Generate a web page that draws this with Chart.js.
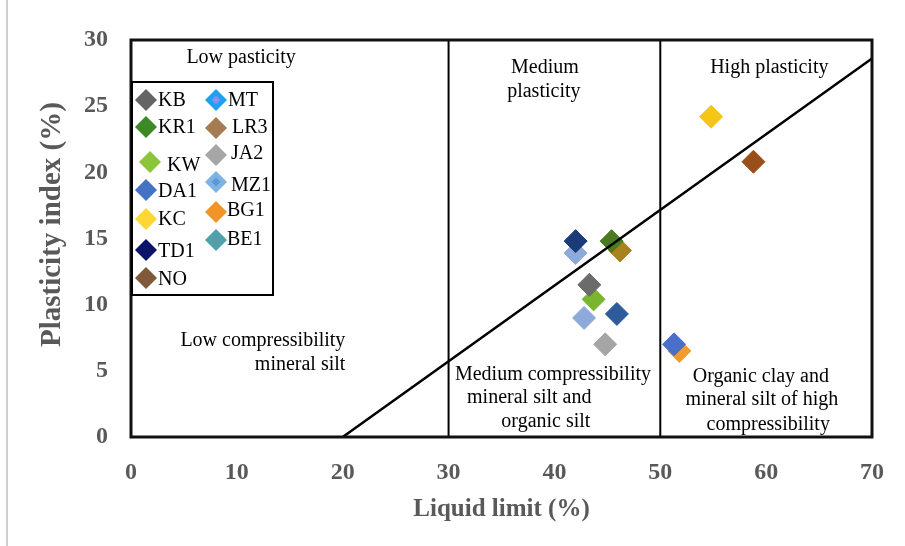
<!DOCTYPE html>
<html><head><meta charset="utf-8">
<script src="https://cdn.jsdelivr.net/npm/chart.js@4.4.0/dist/chart.umd.min.js"></script>
<style>html,body{margin:0;padding:0;background:#fff}#wrap{width:905px;height:546px;position:relative}</style>
</head><body><div id="wrap"><canvas id="c" width="905" height="546"></canvas></div>
<script>
// ---- data ----
const samples = ['KB','KR1','KW','DA1','KC','TD1','NO','MT','LR3','JA2','MZ1','BG1','BE1'];
const liquidLimit = [43.3, 45.4, 43.7, 51.3, 54.8, 42.0, 58.8, 45.9, 46.2, 44.8, 42.0, 51.8, 42.8];
const plasticityIndex = [11.5, 14.8, 10.4, 7.0, 24.2, 14.8, 20.8, 9.3, 14.1, 7.0, 13.9, 6.5, 9.0];
const xTickValues = [0, 10, 20, 30, 40, 50, 60, 70];
const yTickValues = [0, 5, 10, 15, 20, 25, 30];
const aLineLL = [20, 70];
const aLinePI = [0, 28.6];
const boundaryLL = [30, 50];
const boundaryPI = [0, 30];
const xTitle = 'Liquid limit (%)';
const yTitle = 'Plasticity index (%)';

// ---- styles ----
const pointColors = ['#6b6b6b','#4a7a22','#7ab530','#4a6fc8','#f5c518','#1b3a78','#9a4f1a',
                     '#2e5c9a','#a8821e','#a5a5a5','#8eaadb','#f29a2e','#8eaadb'];
const legendColors = ['#646464','#3b8a27','#8cc43c','#4472c4','#fdd835','#0b1466','#80593a',
                      '#1ea0f0','#a57c52','#a6a6a6','#7fb2e5','#f0952a','#4da3ad'];
const legendInner = [null,null,null,null,null,null,null,'#8a8ff0',null,null,'#5b9bd5',null,'#5f9aa3'];
const serif = '"Liberation Serif","Times New Roman",serif';

const datasets = [];
samples.forEach((s, i) => {
  datasets.push({
    label: s,
    data: [{x: liquidLimit[i], y: plasticityIndex[i]}],
    pointStyle: 'rectRot',
    pointRadius: 11.5,
    pointHoverRadius: 11.5,
    backgroundColor: pointColors[i],
    borderColor: pointColors[i],
    borderWidth: 1,
    order: 1
  });
});
boundaryLL.forEach(v => {
  datasets.push({
    label: 'b' + v,
    data: boundaryPI.map(p => ({x: v, y: p})),
    showLine: true, pointRadius: 0, borderColor: '#000', borderWidth: 2, order: 0
  });
});
datasets.push({
  label: 'A-line',
  data: aLineLL.map((v, i) => ({x: v, y: aLinePI[i]})),
  showLine: true, pointRadius: 0, borderColor: '#000', borderWidth: 2.5, order: 0
});

// annotations in data units
const annotations = [
  {t: 'Low pasticity', x: 10.4, y: 28.65, a: 'center'},
  {t: 'Medium', x: 39.1, y: 27.9, a: 'center'},
  {t: 'plasticity', x: 39.0, y: 26.1, a: 'center'},
  {t: 'High plasticity', x: 60.3, y: 27.9, a: 'center'},
  {t: 'Low compressibility', x: 20.25, y: 7.25, a: 'right'},
  {t: 'mineral silt', x: 20.25, y: 5.45, a: 'right'},
  {t: 'Medium compressibility', x: 30.6, y: 4.7, a: 'left'},
  {t: 'mineral silt and', x: 43.5, y: 2.95, a: 'right'},
  {t: 'organic silt', x: 43.4, y: 1.15, a: 'right'},
  {t: 'Organic clay and', x: 59.5, y: 4.55, a: 'center'},
  {t: 'mineral silt of high', x: 59.6, y: 2.8, a: 'center'},
  {t: 'compressibility', x: 60.2, y: 0.9, a: 'center'}
];

// legend layout relative to chart area (px)
const legendBox = {dx: 1, dy: 42, w: 141, h: 213};
const legendSlots = [
  [15, 60, 27, 61], [15, 87, 27, 88], [19, 122, 36, 126], [15, 150, 27, 152],
  [15, 179, 27, 180], [15, 210, 27, 212], [15, 238, 27, 240],
  [85, 60, 97, 61], [85, 88, 101, 88], [85, 115, 100, 114], [85, 142, 100, 146],
  [85, 172, 96, 171], [85, 200, 96, 200]
];

function diamond(ctx, x, y, r, color) {
  ctx.beginPath();
  ctx.moveTo(x - r, y); ctx.lineTo(x, y - r); ctx.lineTo(x + r, y); ctx.lineTo(x, y + r);
  ctx.closePath();
  ctx.fillStyle = color; ctx.fill();
}

const overlay = {
  id: 'overlay',
  afterDraw(chart) {
    const ctx = chart.ctx, ca = chart.chartArea, xs = chart.scales.x, ys = chart.scales.y;
    ctx.save();
    // figure border
    ctx.strokeStyle = '#cfcfcf'; ctx.lineWidth = 2;
    ctx.beginPath(); ctx.moveTo(7, 0); ctx.lineTo(7, 546); ctx.stroke();
    // plot frame
    ctx.strokeStyle = '#111'; ctx.lineWidth = 3;
    ctx.strokeRect(ca.left, ca.top, ca.right - ca.left, ca.bottom - ca.top);
    // y axis title
    ctx.save();
    ctx.translate(53, ca.top + (ca.bottom - ca.top) * 0.465);
    ctx.rotate(-Math.PI / 2);
    ctx.fillStyle = '#595959'; ctx.font = 'bold 29px ' + serif;
    ctx.textAlign = 'center'; ctx.textBaseline = 'middle';
    ctx.fillText(yTitle, 0, 0);
    ctx.restore();
    // annotations
    ctx.fillStyle = '#000'; ctx.font = '20px ' + serif; ctx.textBaseline = 'middle';
    annotations.forEach(an => {
      ctx.textAlign = an.a;
      ctx.fillText(an.t, xs.getPixelForValue(an.x), ys.getPixelForValue(an.y));
    });
    // legend
    const lx = ca.left + legendBox.dx, ly = ca.top + legendBox.dy;
    ctx.fillStyle = '#fff';
    ctx.fillRect(lx, ly, legendBox.w, legendBox.h);
    ctx.strokeStyle = '#000'; ctx.lineWidth = 2;
    ctx.strokeRect(lx, ly, legendBox.w, legendBox.h);
    ctx.font = '20px ' + serif; ctx.textAlign = 'left'; ctx.textBaseline = 'middle';
    samples.forEach((s, i) => {
      const sl = legendSlots[i];
      const sx = ca.left + sl[0], sy = ca.top + sl[1];
      diamond(ctx, sx, sy, 11, legendColors[i]);
      if (legendInner[i]) diamond(ctx, sx, sy, 4.5, legendInner[i]);
      ctx.fillStyle = '#000';
      ctx.fillText(s, ca.left + sl[2], ca.top + sl[3]);
    });
    ctx.restore();
  }
};

new Chart(document.getElementById('c'), {
  type: 'scatter',
  data: {datasets},
  options: {
    responsive: false, animation: false, devicePixelRatio: 1,
    layout: {autoPadding: false, padding: {left: 0, top: 40, right: 30, bottom: 0}},
    plugins: {legend: {display: false}, tooltip: {enabled: false}},
    scales: {
      x: {
        type: 'linear', min: 0, max: 70,
        afterBuildTicks: sc => { sc.ticks = xTickValues.map(v => ({value: v})); },
        afterFit: sc => { sc.height = 109; },
        grid: {display: false, drawTicks: false}, border: {display: false},
        ticks: {color: '#595959', font: {family: serif, size: 24, weight: 'bold'}, padding: 21, maxRotation: 0},
        title: {display: true, text: xTitle, color: '#595959',
                font: {family: serif, size: 25, weight: 'bold'}, padding: {top: 21, bottom: 21}}
      },
      y: {
        type: 'linear', min: 0, max: 30,
        afterBuildTicks: sc => { sc.ticks = yTickValues.map(v => ({value: v})); },
        afterFit: sc => { sc.width = 131; },
        grid: {display: false, drawTicks: false}, border: {display: false},
        ticks: {color: '#595959', font: {family: serif, size: 24, weight: 'bold'}, padding: 23},
        title: {display: false}
      }
    }
  },
  plugins: [overlay]
});
</script></body></html>
